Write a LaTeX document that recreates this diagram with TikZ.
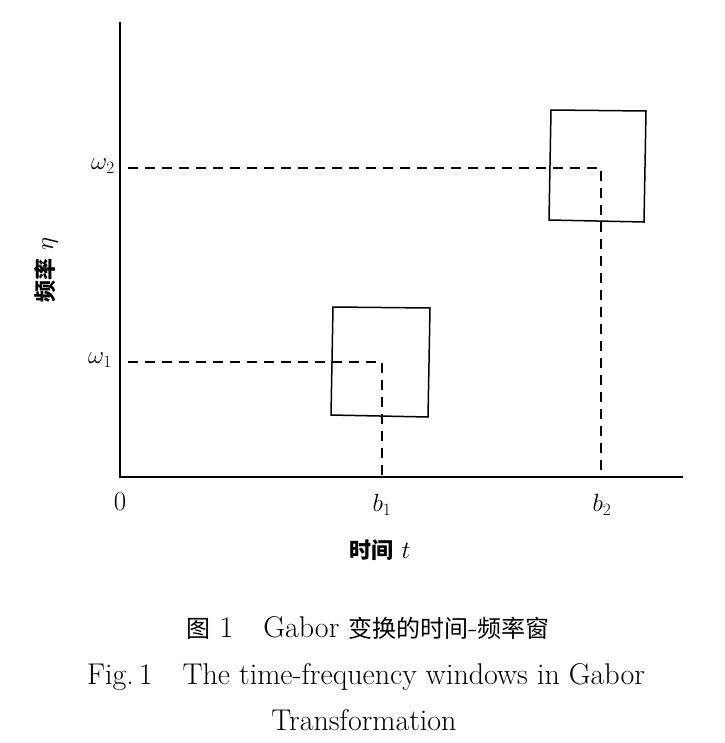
\documentclass[tikz,border=0pt]{standalone}
\usepackage{fontspec}
\newfontfamily\cjk{Noto Sans CJK SC}
\begin{document}
\begin{tikzpicture}[x=1pt,y=-1pt,
  ln/.style={line width=1.5pt},
  dsh/.style={line width=1.3pt,dash pattern=on 10pt off 7pt},
  lab/.style={font=\fontsize{27}{30}\selectfont},
  captxt/.style={font=\fontsize{30}{34}\selectfont}]
\useasboundingbox (0,0) rectangle (724,743);
\coordinate (top) at (120,22);
\coordinate (o) at (120,477);
\coordinate (xe) at (683,477);
\draw[ln] (top) -- (o) -- (xe);
\draw[ln] (333,307) -- (430,308) -- (428,417) -- (331,415) -- cycle;
\draw[ln] (551,110) -- (646,111) -- (644,222) -- (549,220) -- cycle;
\coordinate (w2s) at (128,168); \coordinate (w2c) at (601,168); \coordinate (b2e) at (601,477);
\coordinate (w1s) at (128,362); \coordinate (w1c) at (382,362); \coordinate (b1e) at (382,477);
\draw[dsh] (w2s) -- (w2c) -- (b2e);
\draw[dsh] (w1s) -- (w1c) -- (b1e);
\node[lab] (l2) at (103,166) {$\omega_2$};
\node[lab] (l1) at (100,360) {$\omega_1$};
\node[lab] (l0) at (120,502) {0};
\node[lab] (lb1) at (382,505) {$b_1$};
\node[lab] (lb2) at (602,505) {$b_2$};
\node[lab] (xl) at (380,550) {{\cjk\bfseries\fontsize{22}{26}\selectfont 时间} $t$};
\node[lab,rotate=90] (yl) at (46,270) {{\cjk\bfseries\fontsize{22}{26}\selectfont 频率} $\eta$};
\node[captxt] (c1) at (368,628) {{\cjk\fontsize{24}{28}\selectfont 图} 1\quad Gabor {\cjk\fontsize{24}{28}\selectfont 变换的时间}-{\cjk\fontsize{24}{28}\selectfont 频率窗}};
\node[captxt] (c2) at (366,677) {Fig.\,1\quad The time-frequency windows in Gabor};
\node[captxt] (c3) at (364,720) {Transformation};
\end{tikzpicture}
\end{document}
